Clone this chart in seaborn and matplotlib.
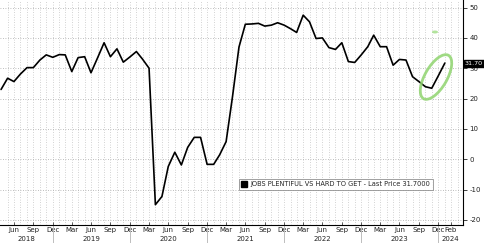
import numpy as np
import pandas as pd
import matplotlib
matplotlib.use("Agg")
import matplotlib.pyplot as plt
import matplotlib.transforms as mtransforms
from matplotlib.patches import Ellipse
from matplotlib.lines import Line2D
import seaborn as sns

# ---- data (monthly, Apr 2018 .. Jan 2024) ----
start_month = "2018-04-01"
values = [23.0, 26.7, 25.6, 28.1, 30.2, 30.2, 32.7, 34.4, 33.6,
          34.5, 34.4, 28.9, 33.5, 33.8, 28.5, 33.4, 38.4, 33.8, 36.4, 32.0, 33.7,
          35.5, 33.0, 30.0, -15.0, -12.3, -2.4, 2.3, -1.9, 3.9, 7.2, 7.2, -1.7,
          -1.7, 1.4, 5.8, 20.5, 37.0, 44.5, 44.6, 44.8, 43.9, 44.2, 45.0, 44.2,
          43.0, 41.8, 47.5, 45.3, 39.8, 40.0, 36.8, 36.2, 38.4, 32.2, 31.9, 34.4,
          37.1, 40.9, 37.1, 37.1, 31.0, 32.9, 32.7, 27.2, 25.6, 23.9, 23.4, 27.5,
          31.7]
series_name = "JOBS PLENTIFUL VS HARD TO GET - Last Price 31.7000"
last_price_label = "31.70"
last_price = 31.7
years = [2018, 2019, 2020, 2021, 2022, 2023, 2024]
y_ticks = [-20, -10, 0, 10, 20, 30, 40, 50]

dates = pd.date_range(start_month, periods=len(values), freq="MS") + pd.offsets.MonthEnd(0)
df = pd.DataFrame({"date": dates, "value": values})

sns.set_style("white")
plt.rcParams["font.family"] = ["DejaVu Sans"]

fig = plt.figure(figsize=(4.85, 2.43), dpi=100)
ax = fig.add_axes([0.0, 18 / 243, 463 / 485, 225 / 243])

sns.lineplot(data=df, x="date", y="value", ax=ax, color="black", linewidth=1.2)

xmin = pd.Timestamp("2018-04-25")
xmax = pd.Timestamp("2024-04-26")
ax.set_xlim(xmin, xmax)
ax.set_ylim(-21.7, 52.5)

# grid: vertical dotted every month, horizontal dotted every 10
grid_months = pd.date_range("2018-05-01", "2024-04-01", freq="MS") + pd.offsets.MonthEnd(0)
for d in grid_months:
    ax.axvline(d, color="#c4c4c4", lw=0.6, ls=(0, (1, 2)), zorder=0)
for yv in y_ticks:
    ax.axhline(yv, color="#a8a8a8", lw=0.6, ls=(0, (1, 2)), zorder=0)

# spines
for s in ["left", "top"]:
    ax.spines[s].set_visible(False)
for s in ["right", "bottom"]:
    ax.spines[s].set_color("black")
    ax.spines[s].set_linewidth(0.8)

# y axis on right
ax.yaxis.tick_right()
ax.set_yticks(y_ticks)
ax.set_yticklabels([str(v) for v in y_ticks])
ax.tick_params(axis="y", which="both", right=True, left=False, direction="out",
               length=3, width=0.6, labelsize=5, pad=1.5, colors="#222222")
ax.set_ylabel("")
ax.set_xlabel("")

# x axis: month labels (Mar/Jun/Sep/Dec + Feb 2024)
all_months = pd.date_range("2018-04-01", "2024-02-01", freq="MS") + pd.offsets.MonthEnd(0)
tick_dates = [d for d in all_months if d.month in (3, 6, 9, 12)]
tick_dates.append(all_months[-1])
ax.set_xticks(tick_dates)
ax.set_xticklabels([d.strftime("%b") for d in tick_dates])
ax.tick_params(axis="x", which="major", bottom=True, direction="in", length=2,
               width=0.5, labelsize=5, pad=1.5, colors="#222222")

# year separators and year labels
trans = mtransforms.blended_transform_factory(ax.transData, ax.transAxes)
for yr in years[1:]:
    d = pd.Timestamp(f"{yr - 1}-12-31")
    ax.plot([d, d], [0, -18 / 225], transform=trans, color="#bdbdbd", lw=0.7,
            clip_on=False)
for yr in years:
    a = max(pd.Timestamp(f"{yr}-01-01"), xmin)
    b = min(pd.Timestamp(f"{yr}-12-31"), xmax)
    c = a + (b - a) / 2
    ax.text(c, -14 / 225, str(yr), transform=trans, ha="center", va="center",
            fontsize=5, color="#222222")

# legend
handle = Line2D([], [], marker="s", color="black", linestyle="none", markersize=4)
leg = ax.legend([handle], [series_name], loc="lower left",
                bbox_to_anchor=(0.516, 0.155), fontsize=4.8, frameon=True,
                fancybox=False, edgecolor="#888888", handlelength=0.8,
                handletextpad=0.5, borderpad=0.4, borderaxespad=0)
leg.get_frame().set_linewidth(0.7)

# last price tag
ax.annotate(last_price_label, xy=(1.0, last_price),
            xycoords=("axes fraction", "data"), xytext=(1.2, 0),
            textcoords="offset points", ha="left", va="center", fontsize=4.6,
            color="white",
            bbox=dict(boxstyle="square,pad=0.15", fc="black", ec="black"),
            annotation_clip=False)

# green highlight ellipse (pixel coordinates)
px = mtransforms.IdentityTransform()
ell = Ellipse((436, 243 - 77), 22, 50, angle=-30, transform=px, fill=False,
              edgecolor="#8fd46f", lw=2.0, alpha=0.85)
fig.patches.append(ell)
blob = Ellipse((435, 243 - 32), 6, 3, angle=0, transform=px, fill=True,
               facecolor="#9fdc84", edgecolor="none", alpha=0.8)
fig.patches.append(blob)

fig.savefig("out.png", dpi=100)
